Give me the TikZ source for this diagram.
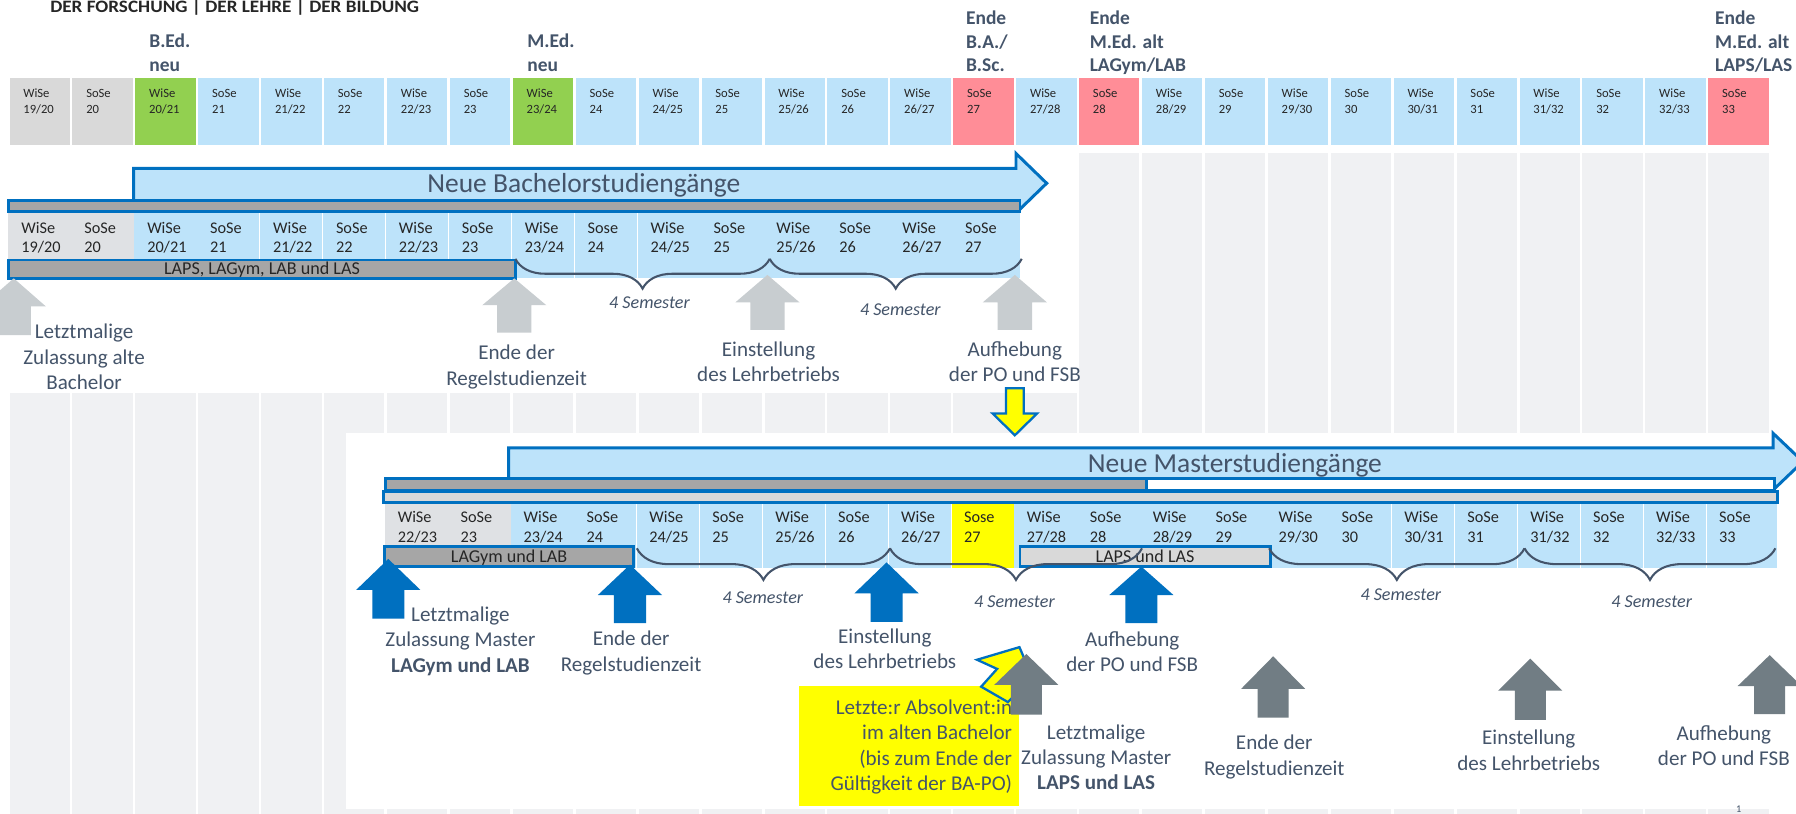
\documentclass[tikz,border=0pt]{standalone}
\usepackage{fontspec}
\usepackage{graphicx}
\setmainfont{Carlito}
\usetikzlibrary{decorations.pathreplacing}
\definecolor{cblue}{RGB}{189,227,250}
\definecolor{cgray}{RGB}{217,217,217}
\definecolor{clgray}{RGB}{223,225,228}
\definecolor{cgreen}{RGB}{146,208,80}
\definecolor{cred}{RGB}{255,141,151}
\definecolor{cbg}{RGB}{240,241,243}
\definecolor{cbar}{RGB}{166,166,166}
\definecolor{cborder}{RGB}{0,112,192}
\definecolor{cslate}{RGB}{68,84,106}
\definecolor{ctext}{RGB}{38,38,38}
\definecolor{carrlight}{RGB}{200,205,208}
\definecolor{carrdark}{RGB}{113,125,132}
\definecolor{cyellow}{RGB}{255,255,0}
\newcommand{\uparw}[6]{%
  \fill[#1] (#2,#3) -- ({#2+28},#4) -- ({#2+#6},#4) -- ({#2+#6},#5) -- ({#2-#6},#5) -- ({#2-#6},#4) -- ({#2-28},#4) -- cycle;}
\newcommand{\lablines}[6]{%
  \foreach \mytxt [count=\n from 0] in {#6} {\node[#1] (#2-\n) at (#3,{#4+#5*\n}) {\mytxt};}}
\begin{document}
\begin{tikzpicture}[x=0.5pt,y=-0.5pt,
  celltop/.style={font=\fontsize{5.5}{6.6}\selectfont, text=ctext, anchor=base west, inner sep=0pt},
  cellrow/.style={font=\fontsize{7.1}{8.5}\selectfont, text=ctext, anchor=base west, inner sep=0pt},
  headlbl/.style={font=\fontsize{8.5}{10}\selectfont\bfseries, text=cslate, anchor=base west, inner sep=0pt},
  lbl/.style={font=\fontsize{9.2}{11}\selectfont, text=cslate, anchor=base, inner sep=0pt},
  ylbl/.style={font=\fontsize{9.2}{11}\selectfont, text=cslate, anchor=base east, inner sep=0pt},
  semlbl/.style={font=\fontsize{7.9}{9.5}\selectfont\itshape, text=cslate, anchor=base, inner sep=0pt},
  bartxt/.style={font=\fontsize{7.9}{9.5}\selectfont, text=ctext, anchor=base, inner sep=0pt},
  barbox/.style={draw=cborder, line width=1.3pt},
  bigtxt/.style={font=\fontsize{12}{14}\selectfont, text=cslate, anchor=base west, inner sep=0pt},
  curly/.style={draw=cslate, line width=0.9pt, decorate, decoration={brace, mirror, amplitude=#1}},
  bigarrow/.style={fill=cblue, draw=cborder, line width=1.3pt, line join=miter}
]
\useasboundingbox (0,0) rectangle (1568,710);
\fill[white] (0,0) rectangle (1568,710);
% background columns
\foreach \i in {0,...,27} {
  \pgfmathsetmacro\xl{8.3+54.93*\i}
  \fill[cbg] (\xl,134) rectangle ({\xl+52.7},720);
}
\fill[white] (-5,130) rectangle (942,343);
\fill[white] (302,378) rectangle (1580,706);
% header
\node[anchor=base west, inner sep=0pt, text=ctext, font=\fontsize{7.6}{9}\selectfont\bfseries] (hdr) at (43.5,10.5) {\scalebox{1.1}[1]{DER FORSCHUNG | DER LEHRE | DER BILDUNG}};
% top row
\foreach \i in {0,...,27} {
  \pgfmathsetmacro\xl{8.3+54.93*\i}
  \pgfmathtruncatemacro\ya{19+int(\i/2)}
  \pgfmathtruncatemacro\yb{\ya+1}
  \def\cc{cblue}
  \ifnum\i<2 \def\cc{cgray}\fi
  \ifnum\i=2 \def\cc{cgreen}\fi
  \ifnum\i=8 \def\cc{cgreen}\fi
  \ifnum\i=15 \def\cc{cred}\fi
  \ifnum\i=17 \def\cc{cred}\fi
  \ifnum\i=27 \def\cc{cred}\fi
  \fill[\cc] (\xl,68) rectangle ({\xl+52.7},127);
  \ifodd\i
    \node[celltop] (t\i-1) at ({\xl+11.7},85) {SoSe};
    \node[celltop] (t\i-2) at ({\xl+11.7},99) {\yb};
  \else
    \node[celltop] (t\i-1) at ({\xl+11.7},85) {WiSe};
    \node[celltop] (t\i-2) at ({\xl+11.7},99) {\ya/\yb};
  \fi
}
\lablines{headlbl}{hbed}{130}{41.8}{20.4}{B.Ed.,neu}
\lablines{headlbl}{hmed}{460}{41.8}{20.4}{M.Ed.,neu}
\lablines{headlbl}{hba}{843}{21.8}{20.2}{Ende,B.A./,B.Sc.}
\lablines{headlbl}{hmlg}{951}{21.8}{20.2}{Ende,M.Ed. alt,LAGym/LAB}
\lablines{headlbl}{hmlp}{1497}{21.8}{20.2}{Ende,M.Ed. alt,LAPS/LAS}
% ===== bachelor section =====
\draw[bigarrow] (116.7,147) -- (887,147) -- (887,134) -- (913.8,160) -- (887,186) -- (887,176) -- (116.7,176) -- cycle;
\node[bigtxt] (bachtitle) at (372.7,168.2) {Neue Bachelorstudiengänge};
\foreach \i in {0,...,15} {
  \pgfmathsetmacro\xl{8.3+54.93*\i}
  \pgfmathtruncatemacro\ya{19+int(\i/2)}
  \pgfmathtruncatemacro\yb{\ya+1}
  \ifnum\i<2 \def\cc{clgray}\else\def\cc{cblue}\fi
  \fill[\cc] ({\xl-1},185) rectangle ({\xl+53.4},243);
  \ifodd\i
    \ifnum\i=9 \def\sem{Sose}\else\def\sem{SoSe}\fi
    \node[cellrow] (b\i-1) at ({\xl+10},203.7) {\sem};
    \node[cellrow] (b\i-2) at ({\xl+10},220.6) {\yb};
  \else
    \node[cellrow] (b\i-1) at ({\xl+10},203.7) {WiSe};
    \node[cellrow] (b\i-2) at ({\xl+10},220.6) {\ya/\yb};
  \fi
}
\fill[cblue] (885,185) rectangle (890.5,243);
\draw[barbox, fill=cbar] (7.3,175) rectangle (890.5,185);
\draw[barbox, fill=cbar] (7.3,227) rectangle (450,243);
\node[bartxt] (barall) at (228.7,239.7) {LAPS, LAGym, LAB und LAS};
\draw[curly=13pt] (450,226) -- (672,226);
\draw[curly=13pt] (672,226) -- (892,226);
\node[semlbl] (semb1) at (567,269.5) {4 Semester};
\node[semlbl] (semb2) at (786,275.4) {4 Semester};
\uparw{carrlight}{12}{243}{267.5}{292.5}{15}
\uparw{carrlight}{449}{243}{266.5}{290.5}{15}
\uparw{carrlight}{670}{240}{264}{288}{15}
\uparw{carrlight}{886}{240}{264}{288}{15}
\lablines{lbl}{la}{73.4}{295.9}{22.2}{Letztmalige,Zulassung alte,Bachelor}
\lablines{lbl}{lb}{451}{314}{22.2}{Ende der,Regelstudienzeit}
\lablines{lbl}{lc}{671}{311.1}{22.2}{Einstellung,des Lehrbetriebs}
\lablines{lbl}{ld}{886}{311.1}{22.2}{Aufhebung,der PO und FSB}
% yellow down arrow
\draw[fill=cyellow, draw=cborder, line width=1pt, line join=miter] (878.3,339) -- (893.7,339) -- (893.7,361) -- (905.4,361) -- (886,380) -- (866.6,361) -- (878.3,361) -- cycle;
% ===== master section =====
\foreach \i in {6,...,27} {
  \pgfmathsetmacro\xl{8.3+54.93*\i}
  \pgfmathtruncatemacro\ya{19+int(\i/2)}
  \pgfmathtruncatemacro\yb{\ya+1}
  \def\cc{cblue}
  \ifnum\i<8 \def\cc{clgray}\fi
  \ifnum\i=15 \def\cc{cyellow}\fi
  \fill[\cc] ({\xl-1.5},439.4) rectangle ({\xl+53},496.2);
  \ifodd\i
    \ifnum\i=15 \def\sem{Sose}\else\def\sem{SoSe}\fi
    \node[cellrow] (m\i-1) at ({\xl+9},456.3) {\sem};
    \node[cellrow] (m\i-2) at ({\xl+9},473.5) {\yb};
  \else
    \node[cellrow] (m\i-1) at ({\xl+9},456.3) {WiSe};
    \node[cellrow] (m\i-2) at ({\xl+9},473.5) {\ya/\yb};
  \fi
}
\fill[cblue] (1540,439.4) rectangle (1551.5,496.2);
\draw[bigarrow] (444,391) -- (1548,391) -- (1548,378.3) -- (1574,403) -- (1548,427.8) -- (1548,418) -- (444,418) -- cycle;
\node[bigtxt] (mastitle) at (949.4,412.7) {Neue Masterstudiengänge};
\draw[barbox, fill=white] (336.4,417.6) rectangle (1549,427.8);
\draw[barbox, fill=cbar] (336.4,417.6) rectangle (1001.3,427.8);
\draw[barbox, fill=cgray] (334.8,429.3) rectangle (1551.5,438.9);
\draw[barbox, fill=cbar] (335.4,477.3) rectangle (553.1,494.7);
\node[bartxt] (barlagym) at (444.5,490.7) {LAGym und LAB};
\draw[barbox, fill=cgray] (890.5,477.3) rectangle (1109,494.5);
\node[bartxt] (barlapsm) at (999.7,491) {LAPS und LAS};
\draw[curly=13.8pt] (556,478.7) -- (777,478.7);
\draw[curly=13.8pt] (777,478.7) -- (997,478.7);
\draw[curly=13.8pt] (1108,478.7) -- (1331,478.7);
\draw[curly=13.8pt] (1331,478.7) -- (1550,478.7);
\node[semlbl] (semm1) at (666,527.1) {4 Semester};
\node[semlbl] (semm2) at (885.6,530) {4 Semester};
\node[semlbl] (semm3) at (1223,524.2) {4 Semester};
\node[semlbl] (semm4) at (1442,530.6) {4 Semester};
\uparw{cborder}{339}{488}{515}{540}{14}
\uparw{cborder}{550}{493}{519.5}{544}{14}
\uparw{cborder}{774}{491}{518}{543}{14}
\uparw{cborder}{996.5}{494.7}{519.5}{544}{14}
\lablines{lbl}{ma}{402}{542.4}{22.2}{Letztmalige,Zulassung Master,\textbf{LAGym und LAB}}
\lablines{lbl}{mb}{551}{563.7}{22.2}{Ende der,Regelstudienzeit}
\lablines{lbl}{mc}{772.5}{561.4}{22.2}{Einstellung,des Lehrbetriebs}
\lablines{lbl}{md}{988.5}{564.3}{22.2}{Aufhebung,der PO und FSB}
% yellow note
\fill[cyellow] (697.6,599) rectangle (890,704);
\lablines{ylbl}{yl}{884}{623.9}{22.1}{{Letzte:r Absolvent:in},{im alten Bachelor},{{(bis zum Ende der}},{Gültigkeit der BA-PO)}}
\draw[fill=cyellow, draw=cborder, line width=1pt, line join=miter] (853,576) -- (890,565) -- (896,579) -- (893,600) -- (880,613) -- (856.6,599.5) -- (870.5,584) -- cycle;
\uparw{carrdark}{896}{571}{598}{624}{13.5}
\uparw{carrdark}{1111.5}{573}{601.5}{626.5}{13.5}
\uparw{carrdark}{1336}{575}{603}{628.5}{13.5}
\uparw{carrdark}{1545}{572}{599}{623.5}{13.5}
\lablines{lbl}{ga}{957}{645.2}{22.2}{Letztmalige,Zulassung Master,\textbf{LAPS und LAS}}
\lablines{lbl}{gb}{1112.5}{654.5}{22.2}{Ende der,Regelstudienzeit}
\lablines{lbl}{gc}{1334.7}{650.1}{22.2}{Einstellung,des Lehrbetriebs}
\lablines{lbl}{gd}{1505}{646.3}{22.2}{Aufhebung,der PO und FSB}
\node[font=\fontsize{4.5}{5}\selectfont, text=cslate, anchor=base, inner sep=0pt] (pnum) at (1518,709) {1};
\end{tikzpicture}
\end{document}
